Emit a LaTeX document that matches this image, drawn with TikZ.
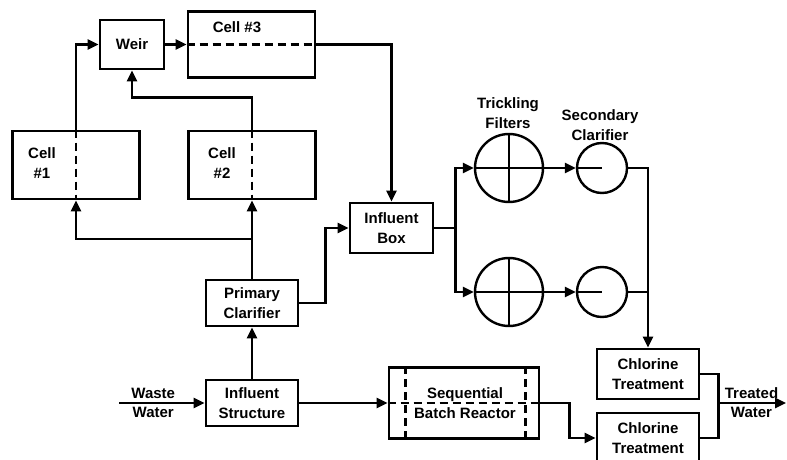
\documentclass[tikz,border=0pt]{standalone}
\usepackage{fontspec}
\setmainfont{Liberation Sans}
\usetikzlibrary{arrows.meta, calc, positioning}
\tikzset{
  plant/.style={>={Triangle[length=11pt,width=10pt]}, x=1pt, y=-1pt, line width=2.6pt,
    every node/.style={font=\fontsize{15}{20}\selectfont\bfseries, align=center}},
  unit/.style={draw, line width=2.8pt, inner sep=0pt},
  tank/.style={draw, circle, line width=2.4pt, inner sep=0pt},
  pipe/.style={->},
  wall/.style={line width=2.4pt, dash pattern=on 8pt off 5pt},
}

\begin{document}
\begin{tikzpicture}[plant]
  \useasboundingbox (0,0) rectangle (787,460);
  \clip (0,0) rectangle (787,460);
  % cells and weir (top left)
  \node[unit, minimum width=64, minimum height=49] (weir) at (132,44.5) {Weir};
  \node[unit, minimum width=127, minimum height=66] (cellthree) at (251.5,44.5) {};
  \node (cellthreetxt) at (237,27) {Cell \#3};
  \node[unit, minimum width=127, minimum height=68] (cellone) at (76,165) {};
  \node (cellonetxt) at (42,163) {Cell\\\#1};
  \node[unit, minimum width=127, minimum height=68] (celltwo) at (252,165) {};
  \node (celltwotxt) at (222,163) {Cell\\\#2};
  \draw[wall] (cellone.north) -- (cellone.south);
  \draw[wall] (celltwo.north) -- (celltwo.south);
  \draw[wall] (cellthree.west) -- (cellthree.east);
  % main process units
  \node[unit, minimum width=83, minimum height=50] (inbox) at (391.5,228) {Influent\\Box};
  \node[unit, minimum width=92, minimum height=46] (primary) at (252,303) {Primary\\Clarifier};
  \node[unit, minimum width=92, minimum height=46] (instruct) at (252,403) {Influent\\Structure};
  \node[unit, minimum width=150, minimum height=71] (sbr) at (464,403) {};
  \draw[wall] ($(sbr.north west)+(18,0)$) -- ($(sbr.south west)+(18,0)$);
  \draw[wall] ($(sbr.north east)+(-15,0)$) -- ($(sbr.south east)+(-15,0)$);
  \draw[wall] (sbr.west) -- (sbr.east);
  \node (sbrtxt) at (465,403) {Sequential\\Batch Reactor};
  \node[unit, minimum width=102, minimum height=50] (chlone) at (648,374) {Chlorine\\Treatment};
  \node[unit, minimum width=102, minimum height=50] (chltwo) at (648,438) {Chlorine\\Treatment};
  % trickling filters and secondary clarifiers
  \node[tank, minimum size=68] (tfone) at (509,168) {};
  \node[tank, minimum size=68] (tftwo) at (509,292) {};
  \node[tank, minimum size=50] (scone) at (602,168) {};
  \node[tank, minimum size=50] (sctwo) at (602,292) {};
  \node (tftxt) at (508,113) {Trickling\\Filters};
  \node (sctxt) at (600,125.5) {Secondary\\Clarifier};
  \foreach \t in {tfone,tftwo}{
    \draw[line width=2.2pt] (\t.west) -- (\t.east) (\t.north) -- (\t.south);}
  \foreach \s in {scone,sctwo}{
    \draw[line width=2.2pt] (\s.west) -- (\s.center);}
  % flows
  \coordinate (inlet) at (119,403);
  \draw[pipe] (inlet) -- node[above, pos=0.4] {Waste} node[below, pos=0.4] {Water} (instruct.west);
  \draw[pipe] (instruct.north) -- (primary.south);
  \draw[pipe] (primary.north) -- (celltwo.south);
  \coordinate (tee) at (252,239);
  \draw[pipe] (tee) -| (cellone.south);
  \draw[pipe] (cellone.north) |- (weir.west);
  \draw[pipe] (celltwo.north) -- ++(0,-32) -| (weir.south);
  \draw[pipe] (weir.east) -- (weir.east -| cellthree.west);
  \draw[pipe] (cellthree.east) -| (inbox.north);
  \draw[pipe] (primary.east) -- ++(26,0) |- (inbox.west);
  \draw (inbox.east) -- ++(21,0) coordinate (fork);
  \draw[pipe] (fork) |- (tfone.west);
  \draw[pipe] (fork) |- (tftwo.west);
  \draw[pipe] (tfone.east) -- (scone.west);
  \draw[pipe] (tftwo.east) -- (sctwo.west);
  \draw[pipe] (scone.east) -| (chlone.north);
  \draw (sctwo.east) -- (sctwo.east -| chlone.north);
  \draw[pipe] (instruct.east) -- (instruct.east -| sbr.west);
  \draw[pipe] (sbr.east) -- ++(29,0) |- (chltwo.west);
  \draw (chlone.east) -- ++(18,0) |- (chltwo.east);
  \coordinate (join) at (717,403);
  \coordinate (outlet) at (786,403);
  \draw[pipe] (join) -- node[above] {Treated} node[below] {Water} (outlet);
\end{tikzpicture}
\end{document}
